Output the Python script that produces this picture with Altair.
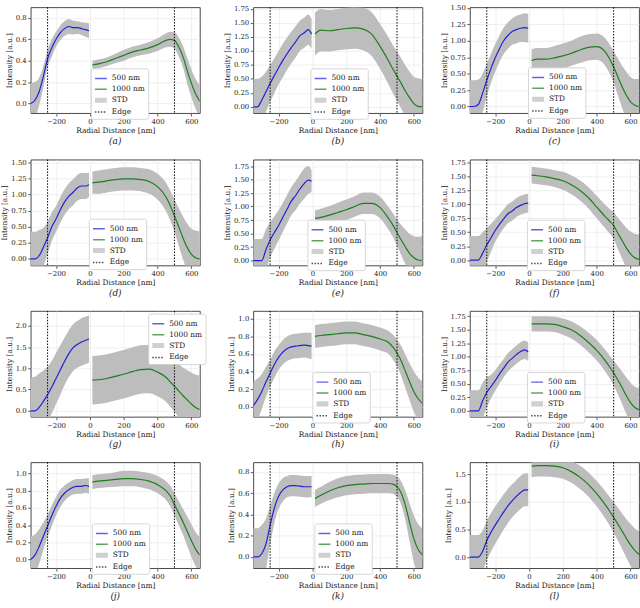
import altair as alt
import pandas as pd

# ---------------- data ----------------
BLUE_X = [-350, -325, -300, -275, -250, -225, -200, -175, -150, -125, -100, -75, -50, -25, -5]
GREEN_X = [15, 50, 100, 150, 200, 250, 300, 350, 400, 450, 475, 500, 525, 550, 575, 600, 625, 650]
EDGES = [-250, 500]
X_TICKS = [-200, 0, 200, 400, 600]
SERIES = ["500 nm", "1000 nm", "STD", "Edge"]
PANEL_LABELS = ["(a)", "(b)", "(c)", "(d)", "(e)", "(f)", "(g)", "(h)", "(i)", "(j)", "(k)", "(l)"]

a_blue = [0.00, 0.03, 0.11, 0.25, 0.42, 0.52, 0.60, 0.66, 0.70, 0.72, 0.71, 0.71, 0.70, 0.69, 0.68]
a_blue_std = [0.19, 0.17, 0.13, 0.10, 0.08, 0.08, 0.07, 0.07, 0.07, 0.07, 0.065, 0.06, 0.06, 0.065, 0.07]
a_green = [0.36, 0.37, 0.39, 0.42, 0.45, 0.48, 0.50, 0.52, 0.55, 0.59, 0.60, 0.59, 0.53, 0.44, 0.31, 0.19, 0.09, 0.02]
a_green_std = [0.04, 0.04, 0.04, 0.045, 0.05, 0.05, 0.05, 0.055, 0.06, 0.065, 0.07, 0.075, 0.09, 0.10, 0.12, 0.13, 0.14, 0.15]

b_blue = [0.0, 0.0, 0.12, 0.27, 0.42, 0.56, 0.70, 0.83, 0.95, 1.06, 1.16, 1.27, 1.32, 1.38, 1.30]
b_blue_std = [0.5, 0.5, 0.42, 0.36, 0.33, 0.31, 0.30, 0.30, 0.29, 0.28, 0.28, 0.27, 0.27, 0.27, 0.27]
b_green = [1.30, 1.37, 1.36, 1.38, 1.40, 1.41, 1.39, 1.30, 1.08, 0.82, 0.68, 0.55, 0.42, 0.28, 0.16, 0.06, 0.01, 0.0]
b_green_std = [0.38, 0.38, 0.37, 0.37, 0.37, 0.37, 0.38, 0.39, 0.40, 0.42, 0.43, 0.44, 0.45, 0.46, 0.47, 0.48, 0.50, 0.50]

c_blue = [0.0, 0.0, 0.03, 0.20, 0.40, 0.58, 0.74, 0.88, 1.00, 1.08, 1.14, 1.17, 1.19, 1.20, 1.19]
c_blue_std = [0.4, 0.4, 0.38, 0.30, 0.25, 0.22, 0.21, 0.20, 0.20, 0.20, 0.20, 0.21, 0.21, 0.22, 0.22]
c_green = [0.70, 0.72, 0.72, 0.74, 0.77, 0.81, 0.86, 0.90, 0.91, 0.83, 0.73, 0.60, 0.45, 0.30, 0.17, 0.07, 0.02, 0.0]
c_green_std = [0.17, 0.17, 0.17, 0.18, 0.19, 0.19, 0.20, 0.20, 0.20, 0.21, 0.22, 0.24, 0.28, 0.32, 0.36, 0.38, 0.40, 0.42]

d_blue = [0.0, 0.0, 0.05, 0.18, 0.33, 0.50, 0.62, 0.76, 0.88, 0.97, 1.03, 1.10, 1.13, 1.13, 1.15]
d_blue_std = [0.42, 0.42, 0.40, 0.30, 0.25, 0.22, 0.20, 0.20, 0.20, 0.20, 0.20, 0.20, 0.20, 0.20, 0.19]
d_green = [1.18, 1.19, 1.21, 1.23, 1.24, 1.24, 1.23, 1.20, 1.12, 0.96, 0.83, 0.67, 0.50, 0.33, 0.18, 0.07, 0.02, 0.0]
d_green_std = [0.17, 0.18, 0.18, 0.18, 0.18, 0.18, 0.18, 0.19, 0.20, 0.22, 0.23, 0.25, 0.29, 0.33, 0.37, 0.40, 0.42, 0.43]

e_blue = [0.0, 0.0, 0.0, 0.20, 0.38, 0.52, 0.65, 0.80, 0.95, 1.10, 1.20, 1.32, 1.42, 1.49, 1.47]
e_blue_std = [0.4, 0.4, 0.4, 0.38, 0.33, 0.30, 0.28, 0.27, 0.26, 0.26, 0.27, 0.27, 0.28, 0.26, 0.2]
e_green = [0.78, 0.80, 0.84, 0.89, 0.94, 1.00, 1.06, 1.06, 0.98, 0.78, 0.66, 0.52, 0.38, 0.25, 0.13, 0.05, 0.01, 0.0]
e_green_std = [0.15, 0.16, 0.17, 0.18, 0.19, 0.19, 0.20, 0.20, 0.20, 0.21, 0.22, 0.24, 0.28, 0.32, 0.36, 0.40, 0.43, 0.45]

f_blue = [0.0, 0.0, 0.0, 0.12, 0.27, 0.40, 0.53, 0.64, 0.74, 0.83, 0.88, 0.94, 0.98, 1.01, 1.02]
f_blue_std = [0.43, 0.43, 0.43, 0.38, 0.30, 0.25, 0.20, 0.18, 0.17, 0.17, 0.17, 0.17, 0.17, 0.17, 0.17]
f_green = [1.52, 1.51, 1.49, 1.46, 1.42, 1.35, 1.25, 1.12, 0.95, 0.78, 0.70, 0.62, 0.48, 0.35, 0.22, 0.11, 0.04, 0.01]
f_green_std = [0.15, 0.15, 0.15, 0.15, 0.16, 0.17, 0.18, 0.19, 0.20, 0.21, 0.22, 0.24, 0.28, 0.32, 0.36, 0.40, 0.43, 0.45]

g_blue = [0.0, 0.0, 0.08, 0.22, 0.38, 0.56, 0.76, 0.96, 1.16, 1.34, 1.48, 1.56, 1.62, 1.66, 1.69]
g_blue_std = [0.78, 0.80, 0.80, 0.72, 0.66, 0.62, 0.60, 0.58, 0.56, 0.55, 0.55, 0.55, 0.56, 0.56, 0.56]
g_green = [0.72, 0.73, 0.76, 0.81, 0.86, 0.92, 0.97, 0.98, 0.91, 0.79, 0.68, 0.58, 0.47, 0.36, 0.26, 0.16, 0.08, 0.03]
g_green_std = [0.57, 0.57, 0.57, 0.57, 0.57, 0.57, 0.57, 0.57, 0.57, 0.58, 0.58, 0.60, 0.63, 0.66, 0.70, 0.74, 0.77, 0.80]

h_blue = [0.01, 0.08, 0.17, 0.28, 0.38, 0.48, 0.56, 0.62, 0.66, 0.68, 0.69, 0.695, 0.70, 0.695, 0.69]
h_blue_std = [0.27, 0.24, 0.20, 0.17, 0.15, 0.15, 0.14, 0.14, 0.14, 0.14, 0.14, 0.14, 0.14, 0.145, 0.15]
h_green = [0.80, 0.81, 0.82, 0.83, 0.84, 0.84, 0.82, 0.80, 0.77, 0.73, 0.68, 0.61, 0.52, 0.40, 0.28, 0.17, 0.09, 0.04]
h_green_std = [0.13, 0.13, 0.13, 0.13, 0.13, 0.13, 0.13, 0.13, 0.13, 0.13, 0.14, 0.15, 0.17, 0.19, 0.21, 0.23, 0.24, 0.25]

i_blue = [0.0, 0.0, 0.0, 0.18, 0.34, 0.45, 0.56, 0.68, 0.79, 0.90, 0.97, 1.04, 1.10, 1.13, 1.09]
i_blue_std = [0.38, 0.38, 0.38, 0.34, 0.28, 0.22, 0.19, 0.18, 0.17, 0.17, 0.17, 0.17, 0.17, 0.17, 0.17]
i_green = [1.61, 1.61, 1.61, 1.60, 1.56, 1.50, 1.40, 1.27, 1.12, 0.93, 0.82, 0.70, 0.57, 0.43, 0.28, 0.15, 0.06, 0.02]
i_green_std = [0.14, 0.14, 0.14, 0.14, 0.15, 0.16, 0.17, 0.18, 0.19, 0.20, 0.21, 0.23, 0.26, 0.30, 0.34, 0.37, 0.39, 0.40]

j_blue = [0.0, 0.05, 0.15, 0.27, 0.39, 0.51, 0.62, 0.71, 0.77, 0.81, 0.84, 0.85, 0.85, 0.86, 0.85]
j_blue_std = [0.27, 0.24, 0.20, 0.16, 0.13, 0.12, 0.11, 0.10, 0.09, 0.085, 0.085, 0.085, 0.085, 0.085, 0.09]
j_green = [0.90, 0.91, 0.92, 0.93, 0.94, 0.94, 0.93, 0.91, 0.87, 0.80, 0.74, 0.64, 0.54, 0.44, 0.33, 0.22, 0.12, 0.05]
j_green_std = [0.08, 0.08, 0.08, 0.085, 0.09, 0.09, 0.09, 0.095, 0.10, 0.11, 0.12, 0.13, 0.14, 0.15, 0.17, 0.19, 0.20, 0.21]

k_blue = [0.0, 0.0, 0.03, 0.12, 0.30, 0.46, 0.57, 0.63, 0.66, 0.67, 0.67, 0.665, 0.66, 0.66, 0.66]
k_blue_std = [0.27, 0.27, 0.27, 0.24, 0.18, 0.14, 0.12, 0.11, 0.10, 0.10, 0.10, 0.10, 0.10, 0.10, 0.10]
k_green = [0.55, 0.58, 0.62, 0.65, 0.67, 0.68, 0.685, 0.69, 0.69, 0.69, 0.685, 0.66, 0.60, 0.48, 0.32, 0.17, 0.07, 0.02]
k_green_std = [0.08, 0.08, 0.085, 0.09, 0.09, 0.09, 0.09, 0.09, 0.09, 0.09, 0.09, 0.095, 0.11, 0.14, 0.18, 0.22, 0.24, 0.25]

l_blue = [0.0, 0.0, 0.0, 0.10, 0.30, 0.45, 0.58, 0.70, 0.82, 0.93, 1.02, 1.10, 1.17, 1.22, 1.22]
l_blue_std = [0.4, 0.4, 0.4, 0.38, 0.36, 0.35, 0.34, 0.33, 0.32, 0.31, 0.30, 0.30, 0.30, 0.30, 0.30]
l_green = [1.65, 1.66, 1.66, 1.65, 1.62, 1.55, 1.45, 1.32, 1.15, 0.95, 0.84, 0.72, 0.60, 0.47, 0.34, 0.22, 0.12, 0.05]
l_green_std = [0.2, 0.2, 0.2, 0.2, 0.2, 0.2, 0.21, 0.22, 0.23, 0.25, 0.26, 0.28, 0.30, 0.32, 0.35, 0.38, 0.40, 0.42]

BLUES = [a_blue, b_blue, c_blue, d_blue, e_blue, f_blue, g_blue, h_blue, i_blue, j_blue, k_blue, l_blue]
BLUE_STDS = [a_blue_std, b_blue_std, c_blue_std, d_blue_std, e_blue_std, f_blue_std,
             g_blue_std, h_blue_std, i_blue_std, j_blue_std, k_blue_std, l_blue_std]
GREENS = [a_green, b_green, c_green, d_green, e_green, f_green, g_green, h_green, i_green, j_green, k_green, l_green]
GREEN_STDS = [a_green_std, b_green_std, c_green_std, d_green_std, e_green_std, f_green_std,
              g_green_std, h_green_std, i_green_std, j_green_std, k_green_std, l_green_std]

Y_DOMAINS = [[-0.09, 0.9], [-0.11, 1.78], [-0.10, 1.51], [-0.10, 1.54], [-0.09, 1.87], [-0.095, 1.80],
             [-0.14, 2.35], [-0.115, 1.09], [-0.11, 1.85], [-0.10, 1.13], [-0.105, 0.89], [-0.2, 1.72]]
T02 = [0.0, 0.2, 0.4, 0.6, 0.8]
T025_150 = [0.0, 0.25, 0.5, 0.75, 1.0, 1.25, 1.5]
T025_175 = [0.0, 0.25, 0.5, 0.75, 1.0, 1.25, 1.5, 1.75]
Y_TICKS = [T02, T025_175, T025_150, T025_150, T025_175, T025_175,
           [0.0, 0.5, 1.0, 1.5, 2.0], T02 + [1.0], T025_175, T02 + [1.0], T02, [0.0, 0.5, 1.0, 1.5]]
Y_FORMATS = [".1f", ".2f", ".2f", ".2f", ".2f", ".2f", ".1f", ".1f", ".2f", ".1f", ".1f", ".1f"]

# ---------------- styling ----------------
LEGEND_XY = [(61, 62), (58, 62), (59, 61), (59, 60), (55, 61), (58, 61),
             (119, 3), (60, 62), (58, 62), (62, 62), (62, 62), None]
BLUE = "#2121d6"
GREEN = "#1b7f1b"
BAND = "#bdbdbd"
SERIES_COLORS = [BLUE, GREEN, BAND, "#000000"]
SERIES_SHAPES = ["stroke", "stroke",
                 "M-1,-0.3H1M-1,-0.15H1M-1,0H1M-1,0.15H1M-1,0.3H1", "stroke"]
SERIES_DASH = [[1, 0], [1, 0], [1, 0], [1.5, 1.5]]
W, H = 171, 107
FONT = "DejaVu Serif"


def panel(i):
    df_b = pd.DataFrame({"x": BLUE_X, "y": BLUES[i], "s": BLUE_STDS[i], "seg": "blue"})
    df_g = pd.DataFrame({"x": GREEN_X, "y": GREENS[i], "s": GREEN_STDS[i], "seg": "green"})
    df = pd.concat([df_b, df_g], ignore_index=True)
    df["lo"] = df["y"] - df["s"]
    df["hi"] = df["y"] + df["s"]

    xscale = alt.Scale(domain=[-350, 650], nice=False, zero=False)
    xaxis = alt.Axis(values=X_TICKS, format="d", title="Radial Distance [nm]")
    yscale = alt.Scale(domain=Y_DOMAINS[i], nice=False, zero=False)
    yaxis = alt.Axis(values=Y_TICKS[i], format=Y_FORMATS[i], title="Intensity [a.u.]")
    X = alt.X("x:Q", scale=xscale, axis=xaxis)

    base = alt.Chart(df)
    band = base.mark_area(color=BAND, interpolate="monotone", clip=True).encode(
        x=X, y=alt.Y("lo:Q", scale=yscale, axis=yaxis), y2="hi:Q", detail="seg:N")
    line_b = base.transform_filter(alt.datum.seg == "blue").mark_line(
        color=BLUE, strokeWidth=1.2, interpolate="monotone", clip=True).encode(
        x=X, y=alt.Y("y:Q", scale=yscale, axis=yaxis))
    line_g = base.transform_filter(alt.datum.seg == "green").mark_line(
        color=GREEN, strokeWidth=1.2, interpolate="monotone", clip=True).encode(
        x=X, y=alt.Y("y:Q", scale=yscale, axis=yaxis))
    rules = alt.Chart(pd.DataFrame({"x": EDGES})).mark_rule(
        color="black", strokeDash=[1.5, 1.5], strokeWidth=1).encode(x=X)
    layers = [band, line_b, line_g, rules]

    if LEGEND_XY[i] is not None:
        lx, ly = LEGEND_XY[i]
        leg = alt.Legend(title=None, orient="none", legendX=lx, legendY=ly)
        pts = alt.Chart(pd.DataFrame({"series": SERIES})).transform_filter("false").mark_point(
            filled=False, size=144).encode(
            color=alt.Color("series:N", scale=alt.Scale(domain=SERIES, range=SERIES_COLORS), legend=leg),
            shape=alt.Shape("series:N", scale=alt.Scale(domain=SERIES, range=SERIES_SHAPES), legend=leg),
            strokeDash=alt.StrokeDash("series:N", scale=alt.Scale(domain=SERIES, range=SERIES_DASH), legend=leg),
        )
        layers.append(pts)

    return alt.layer(*layers).properties(
        width=W, height=H,
        title=alt.TitleParams(text=PANEL_LABELS[i], orient="bottom", offset=3),
    )


panels = [panel(i) for i in range(12)]

chart = alt.concat(*panels, columns=3, spacing={"row": 11, "column": 16}).resolve_scale(
    x="independent", y="independent", color="independent", shape="independent", strokeDash="independent"
).resolve_legend(
    color="independent", shape="independent", strokeDash="independent"
).properties(
    padding={"left": 0, "top": 0, "right": 0, "bottom": 0},
    background="white",
).configure_axis(
    labelFont=FONT, labelFontSize=7, labelColor="#222222",
    titleFont=FONT, titleFontSize=7.5, titleFontWeight="normal", titleColor="#222222",
    tickColor="#333333", tickSize=3, tickWidth=0.8, labelPadding=1.5, titlePadding=2,
    domain=False, gridColor="#e4e4e4", gridWidth=0.6,
).configure_view(
    stroke="#333333", strokeWidth=0.9,
).configure_title(
    font=FONT, fontSize=9, fontStyle="italic", fontWeight="normal", color="#222222",
).configure_legend(
    fillColor="white", strokeColor="#cccccc", strokeWidth=0.8, cornerRadius=2, padding=3,
    labelFont=FONT, labelFontSize=7.5, labelColor="#222222", symbolSize=144,
    symbolStrokeWidth=1.5, rowPadding=0, labelOffset=4,
)

chart.save("out.html", embed_options={"renderer": "svg", "actions": False})
